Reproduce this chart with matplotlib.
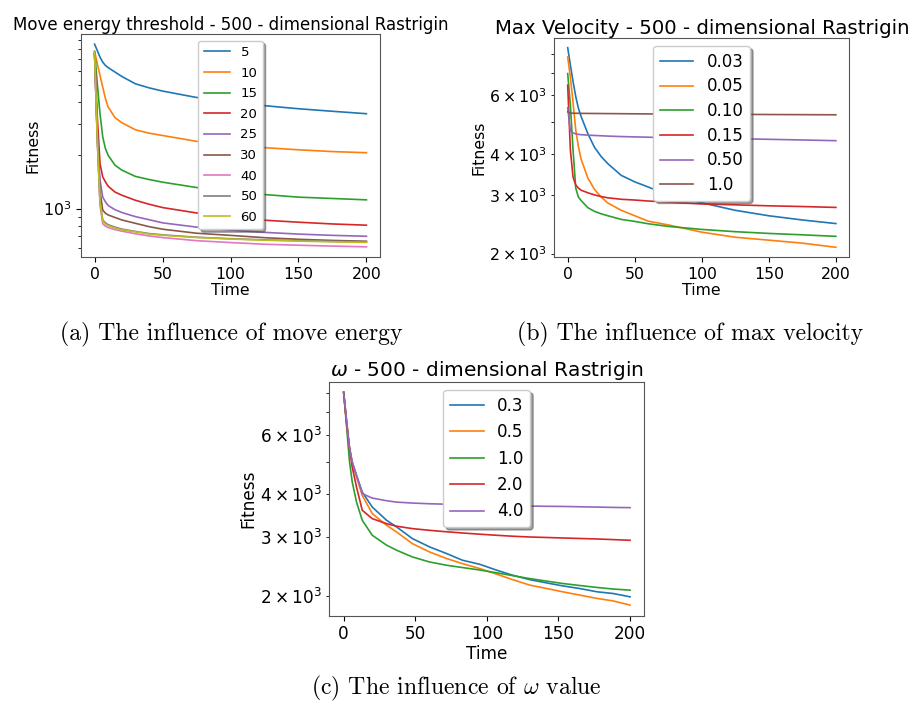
import matplotlib
matplotlib.use("Agg")
import matplotlib.pyplot as plt

# ---- (a) move energy threshold ----
time_a = [0, 2, 4, 6, 8, 10, 15, 20, 30, 40, 50, 75, 100, 125, 150, 175, 200]
labels_a = ["5", "10", "15", "20", "25", "30", "40", "50", "60"]
fit_a = [
    [8514, 7830, 7190, 6730, 6450, 6270, 5920, 5590, 5080, 4820, 4620, 4250, 4040, 3820, 3670, 3550, 3440],
    [7740, 6590, 5660, 4860, 4180, 3750, 3270, 3060, 2790, 2670, 2590, 2400, 2280, 2210, 2150, 2100, 2070],
    [7740, 5080, 3440, 2540, 2180, 2000, 1760, 1650, 1520, 1460, 1410, 1315, 1250, 1200, 1160, 1140, 1120],
    [7520, 3300, 1795, 1510, 1415, 1337, 1240, 1190, 1114, 1058, 1013, 944, 905, 859, 837, 818, 805],
    [7500, 2650, 1445, 1160, 1090, 1040, 985, 950, 900, 865, 830, 785, 755, 733, 717, 705, 697],
    [7500, 2600, 1250, 980, 940, 920, 890, 862, 825, 790, 764, 725, 705, 684, 670, 660, 653],
    [7500, 2400, 1050, 820, 795, 780, 760, 745, 720, 700, 685, 658, 642, 628, 620, 613, 607],
    [7600, 2500, 1100, 860, 830, 810, 785, 765, 742, 722, 710, 688, 675, 665, 658, 652, 648],
    [7700, 2450, 1080, 850, 818, 800, 776, 758, 738, 718, 706, 686, 672, 662, 654, 648, 643],
]

# ---- (b) max velocity ----
time_b = [0, 2, 4, 6, 8, 10, 15, 20, 25, 30, 40, 50, 60, 75, 100, 125, 150, 175, 200]
labels_b = ["0.03", "0.05", "0.10", "0.15", "0.50", "1.0"]
fit_b = [
    [8350, 7400, 6600, 5950, 5480, 5180, 4600, 4180, 3920, 3730, 3440, 3290, 3175, 3000, 2845, 2700, 2600, 2525, 2463],
    [7826, 6800, 5700, 4720, 4200, 3850, 3380, 3120, 2960, 2840, 2700, 2600, 2505, 2440, 2320, 2240, 2195, 2150, 2089],
    [6975, 5600, 4100, 3150, 2960, 2890, 2750, 2680, 2635, 2600, 2535, 2500, 2460, 2415, 2365, 2328, 2300, 2278, 2254],
    [6436, 4100, 3400, 3220, 3150, 3105, 3050, 3005, 2970, 2945, 2915, 2900, 2880, 2860, 2822, 2805, 2786, 2772, 2755],
    [5500, 4680, 4620, 4590, 4575, 4565, 4550, 4540, 4530, 4520, 4505, 4495, 4485, 4470, 4455, 4440, 4420, 4400, 4378],
    [5350, 5300, 5298, 5296, 5294, 5292, 5290, 5288, 5286, 5284, 5280, 5276, 5272, 5268, 5262, 5256, 5250, 5245, 5240],
]

# ---- (c) omega ----
time_c = [0, 2, 4, 6, 9, 13, 20, 30, 37, 48, 60, 72, 83, 95, 107, 118, 130, 142, 153, 165, 177, 188, 200]
labels_c = ["0.3", "0.5", "1.0", "2.0", "4.0"]
fit_c = [
    [8012, 6610, 5515, 4980, 4550, 4061, 3668, 3352, 3204, 2960, 2797, 2672, 2554, 2485, 2386, 2306, 2238, 2188, 2145, 2106, 2060, 2037, 1991],
    [8012, 6610, 5515, 4950, 4500, 3972, 3508, 3240, 3095, 2860, 2702, 2583, 2496, 2414, 2322, 2238, 2156, 2106, 2060, 2014, 1969, 1937, 1882],
    [8012, 6400, 5036, 4348, 3794, 3352, 3027, 2830, 2734, 2612, 2524, 2468, 2430, 2390, 2344, 2300, 2254, 2215, 2180, 2150, 2122, 2100, 2083],
    [8012, 6500, 5515, 4814, 4202, 3588, 3390, 3276, 3220, 3168, 3131, 3100, 3075, 3050, 3027, 3008, 2992, 2982, 2972, 2962, 2952, 2940, 2926],
    [8012, 6610, 5515, 4980, 4550, 4018, 3900, 3830, 3794, 3770, 3752, 3740, 3730, 3720, 3710, 3700, 3693, 3688, 3684, 3676, 3668, 3660, 3654],
]

fig = plt.figure(figsize=(9.1, 7.07), dpi=100)


def panel(rect, t, series, labels, title, tfs, fs, lfs, lsp, pad):
    ax = fig.add_axes(rect)
    for vals, lab in zip(series, labels):
        ax.plot(t, vals, lw=1.2, label=lab)
    ax.set_yscale("log")
    ax.set_xticks([0, 50, 100, 150, 200])
    ax.set_title(title, fontsize=tfs, pad=pad)
    ax.set_xlabel("Time", fontsize=fs, labelpad=1)
    ax.set_ylabel("Fitness", fontsize=fs, labelpad=2)
    ax.tick_params(which="both", labelsize=fs)
    for s in ax.spines.values():
        s.set_color("#555555")
    ax.legend(loc="upper center", shadow=True, fontsize=lfs, labelspacing=lsp)
    return ax


panel([0.089, 0.6365, 0.3286, 0.3154], time_a, fit_a, labels_a,
      "Move energy threshold - 500 - dimensional Rastrigin", 12.0, 11.3, 9.5, 0.58, 1)
panel([0.6091, 0.6361, 0.3242, 0.3106], time_b, fit_b, labels_b,
      "Max Velocity - 500 - dimensional Rastrigin", 14.2, 11.3, 12.0, 0.4, 1)
panel([0.3619, 0.1291, 0.3462, 0.3310], time_c, fit_c, labels_c,
      r"$\omega$ - 500 - dimensional Rastrigin", 14.5, 12.2, 12.1, 0.5, 2.5)

cap = dict(family="cmr10", fontsize=17.1, ha="center", va="center", math_fontfamily="cm")
fig.text(231 / 910, 1 - 334 / 707, "(a) The influence of move energy", **cap)
fig.text(690 / 910, 1 - 334 / 707, "(b) The influence of max velocity", **cap)
fig.text(456 / 910, 1 - 688 / 707, r"(c) The influence of $\omega$ value", **cap)

fig.savefig("out.png", dpi=100)
